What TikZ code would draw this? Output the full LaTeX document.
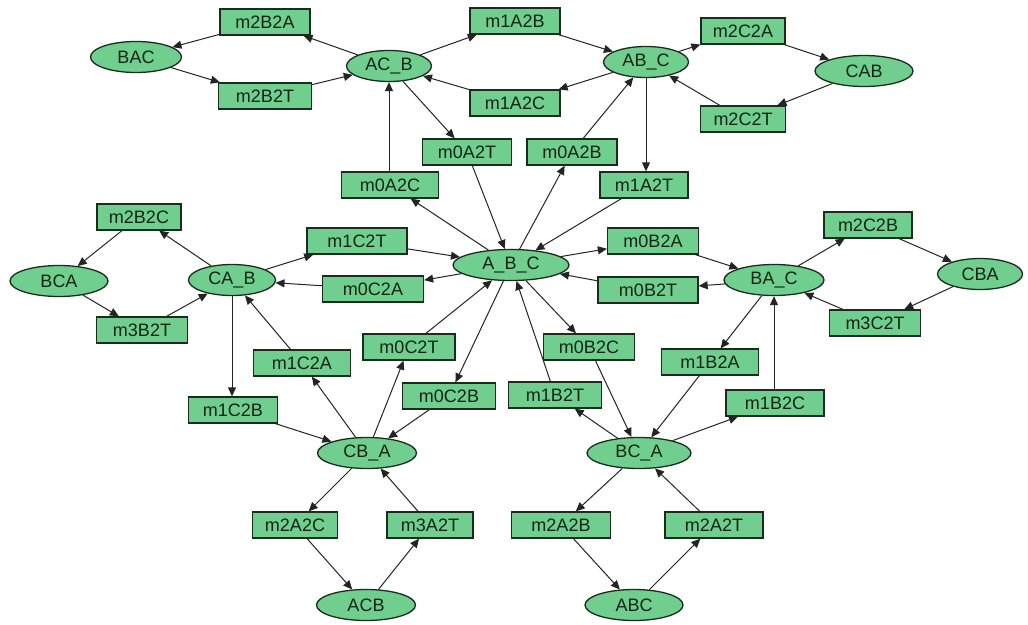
\documentclass[tikz,border=0pt]{standalone}
\usepackage{fontspec}
\setmainfont{Liberation Sans}
\usetikzlibrary{arrows.meta,shapes.geometric}
\definecolor{nodefill}{RGB}{112,206,142}
\definecolor{nodeline}{RGB}{26,44,30}
\definecolor{nodetext}{RGB}{18,36,22}
\definecolor{edgecol}{RGB}{36,36,36}
\tikzset{
  state/.style={ellipse, draw=nodeline, fill=nodefill, line width=1.3pt,
    minimum width=#1, minimum height=31pt, inner sep=0pt,
    font=\fontsize{18}{20}\selectfont, text=nodetext},
  state/.default=96pt,
  move/.style={rectangle, draw=nodeline, fill=nodefill, line width=1.3pt,
    minimum width=#1, minimum height=26pt, inner sep=0pt,
    font=\fontsize{18}{20}\selectfont, text=nodetext},
  move/.default=92pt,
  link/.style={draw=edgecol, line width=1pt, -{Triangle[length=9pt,width=8pt]}},
}
\begin{document}
\begin{tikzpicture}[x=1pt,y=-1pt]
\useasboundingbox (0,0) rectangle (1028,624);
% states
\node[state=91pt] (BAC) at (136,57) {BAC};
\node[state=85pt] (ACB_) at (389,66) {AC\_B};
\node[state=85pt] (ABC_) at (646,62) {AB\_C};
\node[state=98pt] (CAB) at (864,71) {CAB};
\node[state=116pt] (ABCc) at (511,265) {A\_B\_C};
\node[state=98pt] (BCA) at (59,281) {BCA};
\node[state=87pt] (CAB_) at (232,280) {CA\_B};
\node[state=100pt] (BAC_) at (774,280) {BA\_C};
\node[state=85pt] (CBA) at (980,274) {CBA};
\node[state=99pt] (CBA_) at (367,453) {CB\_A};
\node[state=104pt] (BCA_) at (639,453) {BC\_A};
\node[state=99pt] (ACB) at (366,605) {ACB};
\node[state=98pt] (ABC) at (634,605) {ABC};
% moves
\node[move=90pt] (m2B2A) at (265,22) {m2B2A};
\node[move=93pt] (m2B2T) at (265,96) {m2B2T};
\node[move=90pt] (m1A2B) at (515,21) {m1A2B};
\node[move=90pt] (m1A2C) at (515,103) {m1A2C};
\node[move=84pt] (m2C2A) at (743,31) {m2C2A};
\node[move=85pt] (m2C2T) at (743,119) {m2C2T};
\node[move=89pt] (m0A2T) at (467,152) {m0A2T};
\node[move=90pt] (m0A2B) at (572,152) {m0A2B};
\node[move=97pt] (m0A2C) at (390,185) {m0A2C};
\node[move=88pt] (m1A2T) at (644,185) {m1A2T};
\node[move=84pt] (m2B2C) at (139,217) {m2B2C};
\node[move=100pt] (m1C2T) at (357,241) {m1C2T};
\node[move=101pt] (m0C2A) at (373,289) {m0C2A};
\node[move=91pt] (m3B2T) at (142,330) {m3B2T};
\node[move=92pt] (m0C2T) at (409,347) {m0C2T};
\node[move=97pt] (m1C2A) at (302,363) {m1C2A};
\node[move=89pt] (m1C2B) at (233,410) {m1C2B};
\node[move=93pt] (m0C2B) at (449,396) {m0C2B};
\node[move=93pt] (m1B2T) at (555,395) {m1B2T};
\node[move=91pt] (m0B2C) at (589,347) {m0B2C};
\node[move=91pt] (m0B2A) at (653,241) {m0B2A};
\node[move=100pt] (m0B2T) at (648,290) {m0B2T};
\node[move=88pt] (m2C2B) at (868,225) {m2C2B};
\node[move=91pt] (m3C2T) at (875,323) {m3C2T};
\node[move=97pt] (m1B2A) at (710,362) {m1B2A};
\node[move=98pt] (m1B2C) at (775,403) {m1B2C};
\node[move=85pt] (m2A2C) at (295,525) {m2A2C};
\node[move=86pt] (m3A2T) at (430,525) {m3A2T};
\node[move=99pt] (m2A2B) at (561,525) {m2A2B};
\node[move=98pt] (m2A2T) at (714,525) {m2A2T};
% transitions
\draw[link] (m2B2A) -- (BAC);
\draw[link] (ACB_) -- (m2B2A);
\draw[link] (BAC) -- (m2B2T);
\draw[link] (m2B2T) -- (ACB_);
\draw[link] (ACB_) -- (m1A2B);
\draw[link] (m1A2C) -- (ACB_);
\draw[link] (m0A2C.north -| ACB_.south) -- (ACB_.south);
\draw[link] (ACB_) -- (m0A2T);
\draw[link] (m1A2B) -- (ABC_);
\draw[link] (ABC_) -- (m1A2C);
\draw[link] (ABC_) -- (m2C2A);
\draw[link] (m2C2A) -- (CAB);
\draw[link] (CAB) -- (m2C2T);
\draw[link] (m2C2T) -- (ABC_);
\draw[link] (m0A2B) -- (ABC_);
\draw[link] (ABC_.south) -- (ABC_.south |- m1A2T.north);
\draw[link] (ABCc) -- (m0A2C);
\draw[link] (m0A2T) -- (ABCc);
\draw[link] (ABCc) -- (m0A2B);
\draw[link] (m1A2T) -- (ABCc);
\draw[link] (m1C2T) -- (ABCc);
\draw[link] (ABCc) -- (m0C2A);
\draw[link] (ABCc) -- (m0B2A);
\draw[link] (m0B2T) -- (ABCc);
\draw[link] (m0C2T) -- (ABCc);
\draw[link] (ABCc) -- (m0C2B);
\draw[link] (m1B2T) -- (ABCc);
\draw[link] (ABCc) -- (m0B2C);
\draw[link] (m2B2C) -- (BCA);
\draw[link] (CAB_) -- (m2B2C);
\draw[link] (BCA) -- (m3B2T);
\draw[link] (m3B2T) -- (CAB_);
\draw[link] (CAB_) -- (m1C2T);
\draw[link] (m0C2A) -- (CAB_);
\draw[link] (CAB_.south) -- (CAB_.south |- m1C2B.north);
\draw[link] (m1C2A) -- (CAB_);
\draw[link] (CBA_) -- (m1C2A);
\draw[link] (CBA_) -- (m0C2T);
\draw[link] (m0C2B) -- (CBA_);
\draw[link] (m1C2B) -- (CBA_);
\draw[link] (m0B2A) -- (BAC_);
\draw[link] (BAC_) -- (m0B2T);
\draw[link] (BAC_) -- (m2C2B);
\draw[link] (m2C2B) -- (CBA);
\draw[link] (CBA) -- (m3C2T);
\draw[link] (m3C2T) -- (BAC_);
\draw[link] (BAC_) -- (m1B2A);
\draw[link] (m1B2C.north -| BAC_.south) -- (BAC_.south);
\draw[link] (m1B2A) -- (BCA_);
\draw[link] (BCA_) -- (m1B2C);
\draw[link] (m0B2C) -- (BCA_);
\draw[link] (BCA_) -- (m1B2T);
\draw[link] (CBA_) -- (m2A2C);
\draw[link] (m2A2C) -- (ACB);
\draw[link] (ACB) -- (m3A2T);
\draw[link] (m3A2T) -- (CBA_);
\draw[link] (BCA_) -- (m2A2B);
\draw[link] (m2A2B) -- (ABC);
\draw[link] (ABC) -- (m2A2T);
\draw[link] (m2A2T) -- (BCA_);
\end{tikzpicture}
\end{document}
